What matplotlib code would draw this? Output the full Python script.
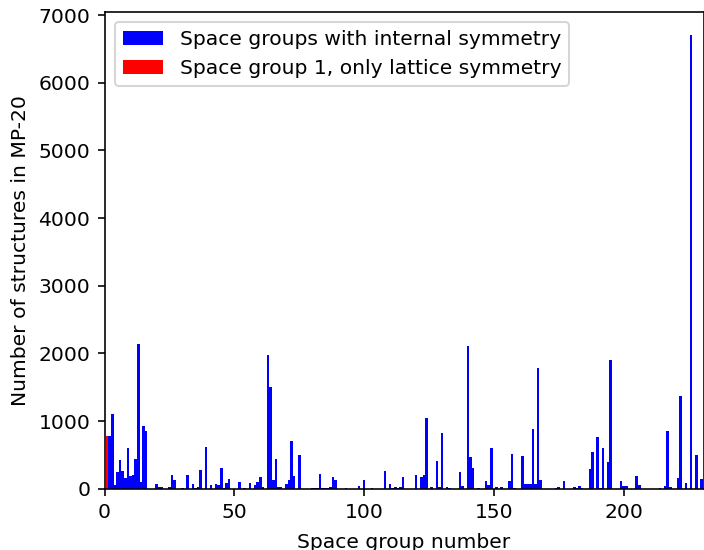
import numpy as np
from matplotlib import pyplot as plt

# number of MP-20 structures per space group, index 0 -> space group 1
counts = [
    780, 780, 1100, 54, 246, 424, 266, 163, 601, 192,        # 1-10
    202, 443, 2138, 99, 926, 852, 0, 0, 0, 69,                # 11-20
    25, 25, 0, 0, 25, 202, 128, 0, 0, 10,                     # 21-30
    0, 202, 0, 69, 10, 30, 276, 0, 611, 0,                    # 31-40
    54, 0, 69, 54, 305, 10, 84, 143, 0, 0,                    # 41-50
    0, 99, 0, 10, 0, 84, 0, 54, 99, 172,                      # 51-60
    25, 0, 1975, 1502, 128, 438, 25, 25, 0, 69,               # 61-70
    128, 704, 187, 0, 497, 0, 0, 0, 0, 10,                    # 71-80
    10, 10, 217, 10, 10, 10, 25, 172, 128, 0,                 # 81-90
    0, 0, 10, 0, 0, 0, 0, 39, 0, 128,                         # 91-100
    0, 0, 10, 0, 0, 0, 0, 261, 0, 69,                         # 101-110
    10, 25, 10, 25, 172, 0, 0, 0, 0, 202,                     # 111-120
    0, 172, 202, 1044, 0, 25, 0, 409, 25, 823,                # 121-130
    0, 25, 10, 0, 0, 0, 246, 39, 0, 2108,                     # 131-140
    468, 305, 0, 10, 0, 0, 113, 54, 601, 0,                   # 141-150
    25, 0, 25, 0, 0, 113, 512, 10, 0, 0,                      # 151-160
    483, 69, 69, 69, 882, 69, 1783, 128, 0, 0,                # 161-170
    0, 0, 0, 10, 25, 0, 113, 0, 0, 0,                         # 171-180
    25, 10, 39, 10, 0, 0, 291, 542, 0, 764,                   # 181-190
    10, 601, 0, 394, 1901, 0, 0, 0, 113, 39,                  # 191-200
    39, 0, 0, 0, 187, 54, 0, 0, 0, 0,                         # 201-210
    0, 0, 0, 10, 0, 39, 852, 25, 0, 0,                        # 211-220
    158, 1370, 0, 84, 0, 6700, 0, 497, 0, 143,                # 221-230
]
space_groups = np.arange(1, len(counts) + 1)

fig = plt.figure(figsize=(704 / 146, 550 / 146), dpi=146)
ax = fig.add_axes([104.6 / 704, 61.3 / 550, 599 / 704, 477 / 550])

ax.bar(space_groups[1:], counts[1:], width=1, color='blue',
       label='Space groups with internal symmetry')
ax.bar(space_groups[:1], counts[:1], width=1, color='red',
       label='Space group 1, only lattice symmetry')

ax.set_xlim(0, 230.8)
ax.set_ylim(0, 7050)
ax.set_xlabel('Space group number', labelpad=5.5)
ax.set_ylabel('Number of structures in MP-20')
ax.legend(loc='upper left')

fig.savefig('out.png', dpi=146)
